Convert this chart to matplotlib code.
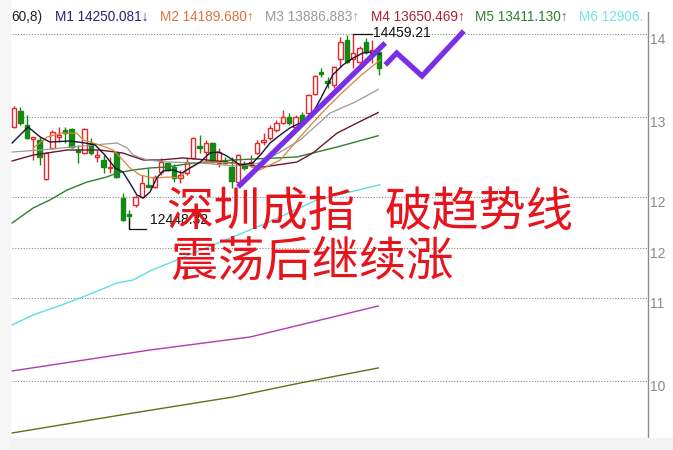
import matplotlib
matplotlib.use('Agg')
from matplotlib import pyplot as plt
from matplotlib.patches import Rectangle

# daily candles
opens = [13501, 13666, 13521, 13377, 13367, 12965, 13285, 13398, 13470, 13480,
         13264, 13233, 13336, 13192, 13161, 13079, 13233, 12770, 12605, 12698,
         12780, 12904, 12883, 13038, 13130, 13089, 12976, 13027, 13182, 13305,
         13243, 13336, 13130, 13151, 13089, 12934, 13120, 13120, 13233, 13346,
         13388, 13470, 13542, 13604, 13501, 13625, 13645, 13841, 14067, 13975,
         13934, 14201, 14397, 14201, 14170, 14376, 14263, 14273]
highs = [13717, 13707, 13625, 13400, 13398, 13243, 13470, 13501, 13501, 13491,
         13315, 13491, 13388, 13264, 13212, 13192, 13243, 12821, 12646, 12801,
         13007, 13079, 13007, 13182, 13140, 13120, 13058, 13182, 13398, 13419,
         13367, 13346, 13285, 13192, 13192, 13223, 13151, 13212, 13367, 13439,
         13521, 13573, 13676, 13645, 13625, 13656, 13841, 14037, 14109, 14016,
         14129, 14428, 14448, 14459, 14335, 14418, 14397, 14346]
lows = [13491, 13521, 13377, 13161, 13109, 12955, 13274, 13346, 13336, 13285,
        13130, 13223, 13212, 13140, 13027, 13027, 12980, 12535, 12448, 12677,
        12770, 12880, 12873, 13007, 13048, 12934, 12924, 13007, 13171, 13233,
        13130, 13130, 13089, 13120, 12873, 12924, 13058, 13089, 13223, 13315,
        13367, 13449, 13532, 13521, 13491, 13521, 13635, 13831, 14016, 13903,
        13903, 14119, 14160, 14109, 14160, 14253, 14160, 14037]
closes = [13697, 13542, 13388, 13398, 13192, 13233, 13449, 13419, 13439, 13295,
          13243, 13480, 13233, 13212, 13089, 13089, 12986, 12543, 12584, 12780,
          12924, 12883, 12986, 13140, 13058, 12976, 13007, 13140, 13388, 13285,
          13336, 13140, 13243, 13130, 12945, 13212, 13079, 13140, 13336, 13367,
          13491, 13542, 13604, 13542, 13604, 13563, 13831, 14026, 14047, 13954,
          14119, 14376, 14170, 14263, 14315, 14273, 14294, 14109]

# moving average lines, (day index, price)
m1_x = [-0.3, 2.2, 4.1, 5.6, 8.75, 11.1, 12.7, 14.2, 15.8, 17.0, 18.1, 19.2, 20.2,
        21.25, 22.3, 23.3, 24.8, 26.25, 27.5, 29.1, 30.6, 31.9, 33.0, 34.2, 35.3,
        37.3, 38.75, 40.0, 41.6, 43.1, 44.7, 46.25, 47.8, 49.8, 51.4, 53.0, 54.5,
        55.9, 57.2]
m1_y = [13336, 13501, 13398, 13346, 13357, 13336, 13315, 13212, 13079, 13038, 12924,
        12801, 12770, 12831, 12976, 13048, 13058, 13027, 13079, 13140, 13233, 13243,
        13212, 13161, 13109, 13130, 13233, 13336, 13419, 13491, 13542, 13594, 13779,
        14037, 14140, 14212, 14263, 14273, 14250]
m2_x = [3.0, 5.2, 7.5, 9.8, 10.8, 13.4, 15.5, 17.0, 18.1, 19.7, 21.7, 24.4, 25.9,
        27.0, 29.1, 31.1, 33.75, 36.4, 38.4, 41.6, 44.7, 47.8, 50.9, 54.1, 57.2]
m2_y = [13285, 13398, 13439, 13439, 13367, 13315, 13264, 13161, 13079, 13007, 12976,
        12986, 12976, 13058, 13140, 13140, 13130, 13109, 13058, 13161, 13398, 13625,
        13831, 14026, 14190]
m3_x = [-0.3, 4.1, 12.3, 16.1, 17.7, 18.6, 20.8, 23.9, 29.1, 34.5, 38.4, 41.6, 44.7,
        49.4, 53.3, 56.9]
m3_y = [13243, 13264, 13315, 13336, 13285, 13212, 13161, 13140, 13130, 13099, 13130,
        13243, 13367, 13645, 13758, 13887]
m4_x = [-0.3, 3.0, 8.3, 13.4, 17.0, 20.2, 22.8, 26.4, 30.2, 34.2, 38.9, 44.2, 46.7,
        50.5, 53.6, 56.9]
m4_y = [13151, 13212, 13264, 13264, 13233, 13161, 13161, 13182, 13161, 13130, 13089,
        13140, 13233, 13439, 13542, 13650]
m5_x = [-0.3, 3.0, 5.6, 8.3, 11.4, 14.5, 16.1, 18.6, 21.25, 23.9, 27.0, 30.2, 34.2,
        44.2, 46.7, 50.5, 56.9]
m5_y = [12512, 12667, 12749, 12852, 12934, 12986, 13027, 13058, 13079, 13089, 13120,
        13140, 13161, 13192, 13233, 13295, 13411]
m6_x = [-0.3, 3.0, 8.3, 12.3, 16.1, 18.6, 21.25, 39.5, 47.3, 57.2]
m6_y = [11462, 11565, 11688, 11791, 11894, 11925, 12018, 12512, 12749, 12906]
m7_x = [-0.3, 21.25, 36.9, 44.7, 56.9]
m7_y = [10988, 11204, 11338, 11462, 11657]
m8_x = [-0.3, 18.6, 34.2, 44.7, 56.9]
m8_y = [10349, 10555, 10720, 10864, 11019]

# hand-drawn trend line and zigzag
trend_x = [35.0, 58.0]
trend_y = [12883, 14366]
zig_x = [58.3, 59.8, 63.75, 70.0]
zig_y = [14160, 14263, 14026, 14469]

grid_levels = [14459, 13604, 12780, 12255, 11740, 10885]
grid_labels = ['14', '13', '12', '12', '11', '10']

legend_texts = ['60,8)', 'M1 14250.081↓', 'M2 14189.680↑', 'M3 13886.883↑',
                'M4 13650.469↑', 'M5 13411.130↑', 'M6 12906.']
legend_colors = ['#222222', '#26237a', '#e0733a', '#9a9a9a', '#b02030', '#2f7f2f', '#6fe3ea']
legend_px = [11, 55, 160, 265, 371, 475, 579]

RED = '#e8262a'
GREEN = '#138a13'

fig = plt.figure(figsize=(6.73, 4.5), dpi=100)
ax = fig.add_axes([0, 0, 1, 1])
ax.set_xlim(-14 / 6.4, (673 - 14) / 6.4)
ax.set_ylim(14809 - 10.3 * 450, 14809)
ax.axis('off')

# light frame shading
fig.patches.append(Rectangle((0, 0), 1, 12 / 450, transform=fig.transFigure,
                             color='#f3f3f3', zorder=0))
fig.patches.append(Rectangle((0, 0), 10 / 673, 1, transform=fig.transFigure,
                             color='#f6f6f6', zorder=0))

for g in grid_levels:
    ax.axhline(g, xmin=12 / 673, xmax=648 / 673, color='#8a8a8a', lw=0.8,
               ls=(0, (1, 1.5)), zorder=1)
ax.plot([648 / 673, 648 / 673], [0, 1 - 12 / 450], transform=ax.transAxes,
        color='#8c8c8c', lw=1.0)
for g, lab in zip(grid_levels, grid_labels):
    ax.text(650 / 673, g - 60, lab, transform=ax.get_yaxis_transform(),
            fontsize=10, color='#8a8a8a', va='center', ha='left',
            family=['Liberation Sans', 'DejaVu Sans'])

# candles
for i in range(len(opens)):
    o, h, l, c = opens[i], highs[i], lows[i], closes[i]
    up = c >= o
    col = RED if up else GREEN
    top, bot = max(o, c), min(o, c)
    ax.vlines(i, top, h, color=col, lw=1.0, zorder=3)
    ax.vlines(i, l, bot, color=col, lw=1.0, zorder=3)
    ax.bar(i, top - bot, bottom=bot, width=0.7,
           facecolor='white' if up else GREEN, edgecolor=col, lw=1.0, zorder=3)

ax.plot(m8_x, m8_y, color='#6b6b18', lw=1.0, zorder=2)
ax.plot(m7_x, m7_y, color='#b23ab2', lw=1.0, zorder=2)
ax.plot(m6_x, m6_y, color='#5fdde4', lw=1.0, zorder=2)
ax.plot(m5_x, m5_y, color='#2f7f2f', lw=1.0, zorder=4)
ax.plot(m4_x, m4_y, color='#6a1830', lw=1.0, zorder=4)
ax.plot(m3_x, m3_y, color='#9a9a9a', lw=0.9, zorder=4)
ax.plot(m2_x, m2_y, color='#d8843a', lw=0.9, zorder=4)
ax.plot(m1_x, m1_y, color='#15153a', lw=1.0, zorder=4)

ax.plot(trend_x, trend_y, color='#7a2fe6', lw=3.8, solid_capstyle='butt', zorder=6)
ax.plot(zig_x, zig_y, color='#7a2fe6', lw=3.8, solid_joinstyle='miter', zorder=6)

# high / low markers
hi = highs.index(max(highs))
lo = lows.index(min(lows))
ax.plot([hi, hi + 3.0], [highs[hi], highs[hi]], color='#111111', lw=0.9, zorder=5)
ax.text(hi + 3.1, highs[hi] + 5, '14459.21', fontsize=10, color='#111111',
        va='center', ha='left', family=['Liberation Sans', 'DejaVu Sans'], zorder=5)
ax.plot([lo, lo, lo + 2.6], [lows[lo] + 120, lows[lo], lows[lo]],
        color='#111111', lw=0.9, zorder=5)
ax.text(lo + 3.2, lows[lo] + 90, '12448.32', fontsize=10, color='#111111',
        va='center', ha='left', family=['Liberation Sans', 'DejaVu Sans'], zorder=5)

# legend row
for t, col, px in zip(legend_texts, legend_colors, legend_px):
    fig.text(px / 673, 1 - 17 / 450, t, fontsize=9.8, color=col, va='center',
             ha='left', family=['Liberation Sans', 'DejaVu Sans'])

# annotation
cjk = ['Noto Sans CJK SC', 'DejaVu Sans']
fig.text(166 / 673, 1 - 213 / 450, '深圳成指', fontsize=34, color='#e8141c',
         family=cjk, weight='medium', va='center', ha='left', zorder=7)
fig.text(385 / 673, 1 - 213 / 450, '破趋势线', fontsize=34, color='#e8141c',
         family=cjk, weight='medium', va='center', ha='left', zorder=7)
fig.text(170 / 673, 1 - 262 / 450, '震荡后继续涨', fontsize=34, color='#e8141c',
         family=cjk, weight='medium', va='center', ha='left', zorder=7)

fig.savefig('out.png', dpi=100)
